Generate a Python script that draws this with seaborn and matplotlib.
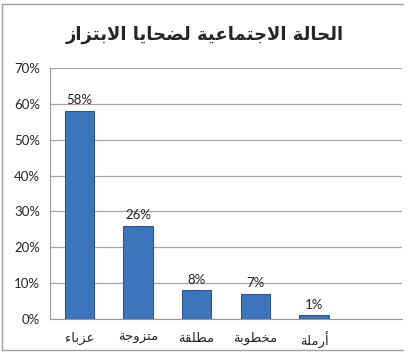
import matplotlib
matplotlib.use('Agg')
import matplotlib.pyplot as plt
from matplotlib.lines import Line2D
from matplotlib.ticker import FixedLocator, PercentFormatter
import seaborn as sns
import pandas as pd

title = 'الحالة الاجتماعية لضحايا الابتزاز'
categories = ['عزباء', 'متزوجة', 'مطلقة', 'مخطوبة', 'أرملة']
shares = [58, 26, 8, 7, 1]
value_labels = ['58%', '26%', '8%', '7%', '1%']
y_ticks = [0, 10, 20, 30, 40, 50, 60, 70]

# minimal arabic shaping (matplotlib has no bidi/shaping)
# letter -> (isolated form code, joins to the following letter)
FORMS = {
    'ء': (0xFE80, False), 'أ': (0xFE83, False), 'ا': (0xFE8D, False),
    'ب': (0xFE8F, True), 'ة': (0xFE93, False), 'ت': (0xFE95, True),
    'ج': (0xFE9D, True), 'ح': (0xFEA1, True), 'خ': (0xFEA5, True),
    'ر': (0xFEAD, False), 'ز': (0xFEAF, False), 'ض': (0xFEBD, True),
    'ط': (0xFEC1, True), 'ع': (0xFEC9, True), 'ق': (0xFED5, True),
    'ل': (0xFEDD, True), 'م': (0xFEE1, True), 'و': (0xFEED, False),
    'ي': (0xFEF1, True),
}
LAM_ALEF = {'ا': 0xFEFB, 'أ': 0xFEF7}


def shape_word(word):
    glyphs = []
    i = 0
    while i < len(word):
        c = word[i]
        if c == 'ل' and i + 1 < len(word) and word[i + 1] in LAM_ALEF:
            glyphs.append(('lamalef', LAM_ALEF[word[i + 1]], False, True))
            i += 2
            continue
        base, dual = FORMS[c]
        glyphs.append((c, base, dual, c != 'ء'))
        i += 1
    out = []
    for k, (c, base, dual, right) in enumerate(glyphs):
        prev_joins = k > 0 and glyphs[k - 1][2] and right
        next_joins = dual and k + 1 < len(glyphs) and glyphs[k + 1][3]
        if c == 'lamalef':
            code = base + (1 if prev_joins else 0)
        elif prev_joins and next_joins:
            code = base + 3
        elif next_joins:
            code = base + 2
        elif prev_joins:
            code = base + 1
        else:
            code = base
        out.append(chr(code))
    return ''.join(reversed(out))


def shape(text):
    return ' '.join(shape_word(w) for w in reversed(text.split(' ')))


sns.set_style('white')
plt.rcParams['font.family'] = ['Lato', 'DejaVu Sans']

df = pd.DataFrame({'cat': [shape(c) for c in categories], 'share': shares})
order = list(df['cat']) + ['']

fig = plt.figure(figsize=(4.19, 3.59), dpi=100)
ax = fig.add_axes([50 / 419, 1 - 319 / 359, 352 / 419, 251 / 359])
sns.barplot(data=df, x='cat', y='share', order=order, color='#3D75BD',
            width=0.5, edgecolor='#2A5A96', linewidth=0.8, saturation=1, ax=ax)

for p, lab in zip(ax.patches, value_labels):
    ax.text(p.get_x() + p.get_width() / 2, p.get_height() + 1.3, lab,
            ha='center', va='bottom', fontsize=9.5, color='#222222')

ax.set_xlim(-0.5, 5.5)
ax.set_ylim(0, 70)
ax.set_yticks(y_ticks)
ax.yaxis.set_major_formatter(PercentFormatter(decimals=0))
ax.xaxis.set_minor_locator(FixedLocator([x - 0.5 for x in range(7)]))
ax.tick_params(axis='x', which='major', length=0, pad=9, labelsize=9.5)
ax.tick_params(axis='x', which='minor', length=4, color='#999999', width=0.8)
ax.tick_params(axis='y', length=4, color='#999999', width=0.8, labelsize=9.5, pad=3)
ax.grid(axis='y', color='#a6a6a6', linewidth=0.9)
ax.set_axisbelow(True)
ax.set_xlabel('')
ax.set_ylabel('')
for s in ['top', 'right']:
    ax.spines[s].set_visible(False)
for s in ['left', 'bottom']:
    ax.spines[s].set_color('#999999')
    ax.spines[s].set_linewidth(0.8)

fig.text(205 / 419, 1 - 35 / 359, shape(title), ha='center', va='center',
         fontsize=13, fontweight='bold', family=['DejaVu Sans'])

# chart frame (left, top, bottom edges)
fc = '#a0a0a0'
fig.add_artist(Line2D([2 / 419, 2 / 419], [1 - 4 / 359, 1 - 350 / 359], color=fc, lw=1))
fig.add_artist(Line2D([2 / 419, 403 / 419], [1 - 4 / 359, 1 - 4 / 359], color=fc, lw=1))
fig.add_artist(Line2D([2 / 419, 403 / 419], [1 - 350 / 359, 1 - 350 / 359], color=fc, lw=1))

fig.savefig('out.png', dpi=100)
